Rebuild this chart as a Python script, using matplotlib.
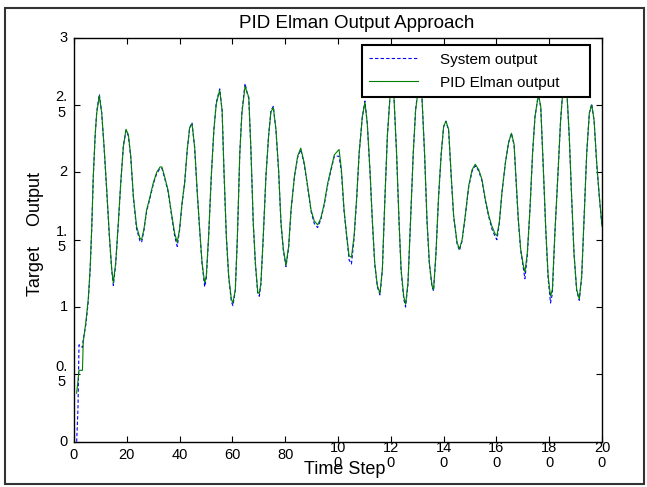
import matplotlib
matplotlib.use("Agg")
import matplotlib.pyplot as plt
from matplotlib.patches import Rectangle

plt.rcParams['font.family'] = ['Liberation Sans', 'DejaVu Sans']

# ---- data ----
steps = [1.0, 1.5, 1.9, 3.2, 3.5, 4.5, 5.4, 6.1, 6.7, 7.3, 8.0, 8.6, 9.6, 10.5, 11.4,
         12.4, 13.4, 14.3, 14.9, 15.8, 16.8, 17.7, 18.7, 19.7, 20.6, 21.5, 22.5, 23.7,
         25.0, 25.6, 26.5, 27.5, 28.8, 30.0, 31.3, 32.6, 33.3, 34.3, 35.6, 36.9, 38.1,
         39.1, 40.0, 40.9, 41.9, 42.9, 43.8, 44.7, 45.7, 46.7, 47.6, 48.5, 49.5, 50.1,
         51.0, 52.0, 53.0, 53.9, 55.2, 56.1, 56.8, 57.7, 58.6, 59.6, 60.2, 61.1, 61.9,
         62.8, 63.6, 64.8, 65.6, 66.2, 67.0, 67.9, 68.7, 69.6, 70.2, 70.8, 71.7, 72.7,
         73.7, 74.6, 75.5, 76.5, 77.5, 78.4, 79.3, 80.3, 81.3, 82.2, 83.5, 84.7, 85.9,
         87.2, 88.5, 89.8, 91.0, 92.3, 93.5, 94.8, 96.1, 97.3, 98.6, 100.4, 101.3, 102.3,
         103.3, 104.2, 105.1, 106.1, 107.1, 108.0, 109.2, 110.2, 111.1, 112.1, 113.0,
         113.9, 114.9, 115.9, 116.8, 117.7, 118.7, 119.7, 120.5, 121.2, 122.2, 123.1,
         123.9, 124.9, 125.6, 126.5, 127.5, 128.5, 129.4, 130.3, 130.9, 131.8, 132.8,
         133.7, 134.6, 135.6, 136.2, 137.1, 138.1, 139.1, 140.0, 140.9, 141.9, 142.9,
         143.8, 145.1, 146.0, 147.0, 148.2, 149.5, 150.8, 152.0, 153.3, 154.5, 155.8,
         157.1, 158.3, 159.6, 160.2, 161.1, 162.1, 163.4, 164.6, 165.7, 166.7, 167.4,
         168.3, 169.2, 170.2, 170.8, 171.7, 172.7, 173.7, 174.6, 175.9, 176.8, 177.7,
         178.7, 179.6, 180.5, 181.2, 182.1, 183.4, 184.3, 185.3, 186.0, 186.8, 187.6,
         188.5, 189.4, 190.4, 191.4, 192.3, 193.2, 194.2, 195.2, 196.1, 197.0, 198.0,
         199.0, 200.0]

elman_out = [0.36, 0.45, 0.53, 0.53, 0.74, 0.89, 1.06, 1.28, 1.58, 1.97, 2.27, 2.44, 2.57, 2.44, 2.19,
             1.87, 1.53, 1.28, 1.18, 1.33, 1.63, 1.92, 2.19, 2.32, 2.28, 2.12, 1.82, 1.60,
             1.51, 1.50, 1.58, 1.72, 1.82, 1.92, 2.00, 2.04, 2.04, 1.97, 1.87, 1.70, 1.55,
             1.48, 1.58, 1.77, 1.92, 2.17, 2.33, 2.36, 2.19, 1.85, 1.58, 1.33, 1.18, 1.23,
             1.53, 1.97, 2.32, 2.51, 2.61, 2.46, 2.02, 1.53, 1.23, 1.06, 1.03, 1.13, 1.53,
             2.14, 2.44, 2.64, 2.59, 2.56, 2.18, 1.63, 1.33, 1.11, 1.10, 1.18, 1.53, 1.97,
             2.27, 2.45, 2.48, 2.32, 2.02, 1.63, 1.43, 1.31, 1.45, 1.72, 1.97, 2.12, 2.18,
             2.07, 1.90, 1.72, 1.64, 1.61, 1.66, 1.77, 1.92, 2.02, 2.13, 2.17, 2.02, 1.72,
             1.53, 1.38, 1.37, 1.53, 1.82, 2.14, 2.41, 2.52, 2.36, 2.02, 1.65,
             1.33, 1.16, 1.10, 1.28, 1.77, 2.27, 2.56, 2.74, 2.56, 2.14, 1.65,
             1.28, 1.08, 1.02, 1.18, 1.65, 2.14, 2.46, 2.60, 2.68, 2.56, 2.14,
             1.65, 1.33, 1.16, 1.13, 1.40, 1.82, 2.14, 2.34, 2.38, 2.32, 1.97,
             1.68, 1.48, 1.43, 1.50, 1.68, 1.90, 2.02, 2.06, 2.02, 1.95, 1.80,
             1.68, 1.60, 1.54, 1.53, 1.63, 1.85, 2.07, 2.22, 2.29, 2.21, 1.97,
             1.65, 1.43, 1.31, 1.26, 1.40, 1.72, 2.14, 2.41, 2.58, 2.49, 2.07,
             1.58, 1.23, 1.08, 1.13, 1.53, 2.02, 2.38, 2.64, 2.70, 2.56, 2.27,
             1.82, 1.40, 1.13, 1.06, 1.23, 1.65, 2.14, 2.44, 2.50, 2.39, 2.07,
             1.82, 1.60]

system_out = [0.00, 0.24, 0.72, 0.70, 0.76, 0.87, 1.04, 1.27, 1.57, 1.96, 2.27, 2.45, 2.58, 2.44, 2.18,
              1.86, 1.52, 1.27, 1.16, 1.32, 1.62, 1.92, 2.20, 2.31, 2.27, 2.11, 1.81, 1.58,
              1.49, 1.48, 1.57, 1.71, 1.81, 1.91, 1.99, 2.03, 2.03, 1.96, 1.86, 1.69, 1.53,
              1.45, 1.57, 1.76, 1.92, 2.17, 2.33, 2.37, 2.18, 1.84, 1.57, 1.32, 1.15, 1.21,
              1.52, 1.97, 2.32, 2.52, 2.62, 2.46, 2.01, 1.52, 1.22, 1.04, 1.01, 1.12, 1.52,
              2.14, 2.45, 2.66, 2.59, 2.55, 2.17, 1.62, 1.32, 1.10, 1.08, 1.17, 1.52, 1.97,
              2.27, 2.46, 2.49, 2.31, 2.01, 1.62, 1.42, 1.30, 1.44, 1.71, 1.97, 2.11, 2.17,
              2.06, 1.89, 1.71, 1.62, 1.59, 1.65, 1.76, 1.91, 2.01, 2.12, 2.12, 2.00, 1.71,
              1.52, 1.35, 1.32, 1.51, 1.81, 2.14, 2.41, 2.53, 2.36, 2.01, 1.64,
              1.32, 1.15, 1.09, 1.27, 1.77, 2.27, 2.57, 2.75, 2.56, 2.13, 1.64,
              1.27, 1.06, 1.00, 1.17, 1.65, 2.14, 2.47, 2.61, 2.69, 2.56, 2.13,
              1.64, 1.32, 1.15, 1.12, 1.39, 1.82, 2.14, 2.34, 2.38, 2.31, 1.96,
              1.67, 1.47, 1.42, 1.49, 1.67, 1.89, 2.01, 2.05, 2.01, 1.94, 1.79,
              1.67, 1.58, 1.52, 1.50, 1.62, 1.85, 2.07, 2.22, 2.29, 2.20, 1.96,
              1.64, 1.42, 1.29, 1.21, 1.38, 1.72, 2.14, 2.41, 2.58, 2.48, 2.06,
              1.57, 1.21, 1.03, 1.10, 1.52, 2.02, 2.38, 2.65, 2.71, 2.56, 2.26,
              1.81, 1.39, 1.12, 1.05, 1.22, 1.65, 2.14, 2.44, 2.51, 2.38, 2.06,
              1.81, 1.60]

x_ticks = [0, 20, 40, 60, 80, 100, 120, 140, 160, 180, 200]
x_tick_labels = ['0', '20', '40', '60', '80', '10\n0', '12\n0', '14\n0', '16\n0', '18\n0', '20\n0']
y_ticks = [0, 0.5, 1, 1.5, 2, 2.5, 3]
y_tick_labels = ['0', '0.\n5', '1', '1.\n5', '2', '2.\n5', '3']

title_text = 'PID Elman Output Approach'
x_label = 'Time Step'
y_label = 'Target    Output'
series_names = ['System output', 'PID Elman output']

# ---- figure ----
W, H = 647, 487
fig = plt.figure(figsize=(W / 100, H / 100), dpi=100)
fig.patch.set_facecolor('white')
ax = fig.add_axes([74 / W, (H - 441.7) / H, 528 / W, 404 / H])

ax.plot(steps, system_out, color='#0000ff', lw=0.8, ls=(0, (3, 2)), label=series_names[0])
ax.plot(steps, elman_out, color='#008000', lw=0.8, label=series_names[1])

ax.set_xlim(0, 200)
ax.set_ylim(0, 3)
ax.set_xticks(x_ticks)
ax.set_xticklabels(x_tick_labels, fontsize=10.5, linespacing=1.1)
ax.set_yticks(y_ticks)
ax.set_yticklabels(y_tick_labels, fontsize=10.5, linespacing=1.1)
for t in ax.get_xticklabels():
    t.set_verticalalignment('center')
for t in ax.get_yticklabels():
    t.set_verticalalignment('center')
    t.set_multialignment('center')

ax.tick_params(axis='both', which='both', direction='in', top=True, right=True,
               length=4, width=0.8, color='black')
ax.tick_params(axis='x', pad=9.8)
ax.tick_params(axis='y', pad=4.5)
for s in ax.spines.values():
    s.set_linewidth(1.0)
    s.set_color('black')

ax.set_title(title_text, fontsize=13.5, x=0.536, pad=7.2)
ax.set_xlabel(x_label, fontsize=13)
ax.xaxis.set_label_coords(0.513, -0.07)
ax.xaxis.label.set_verticalalignment('center')
ax.set_ylabel(y_label, fontsize=13)
ax.yaxis.set_label_coords(-0.072, 0.515)
ax.yaxis.label.set_verticalalignment('center')

leg = ax.legend(loc='upper left', bbox_to_anchor=(0.545, 0.858, 0.432, 0.124), mode='expand',
                fontsize=11, frameon=True, fancybox=False, framealpha=1, edgecolor='black',
                handlelength=3.2, handletextpad=1.4, borderpad=0.5, labelspacing=0.6,
                borderaxespad=0)
leg.get_frame().set_linewidth(1.5)
leg.set_zorder(5)

fig.add_artist(Rectangle((5 / W, 3 / H), 639 / W, 476 / H, transform=fig.transFigure,
                         fill=False, edgecolor='#333333', lw=1.5))

fig.savefig('out.png', dpi=100)
